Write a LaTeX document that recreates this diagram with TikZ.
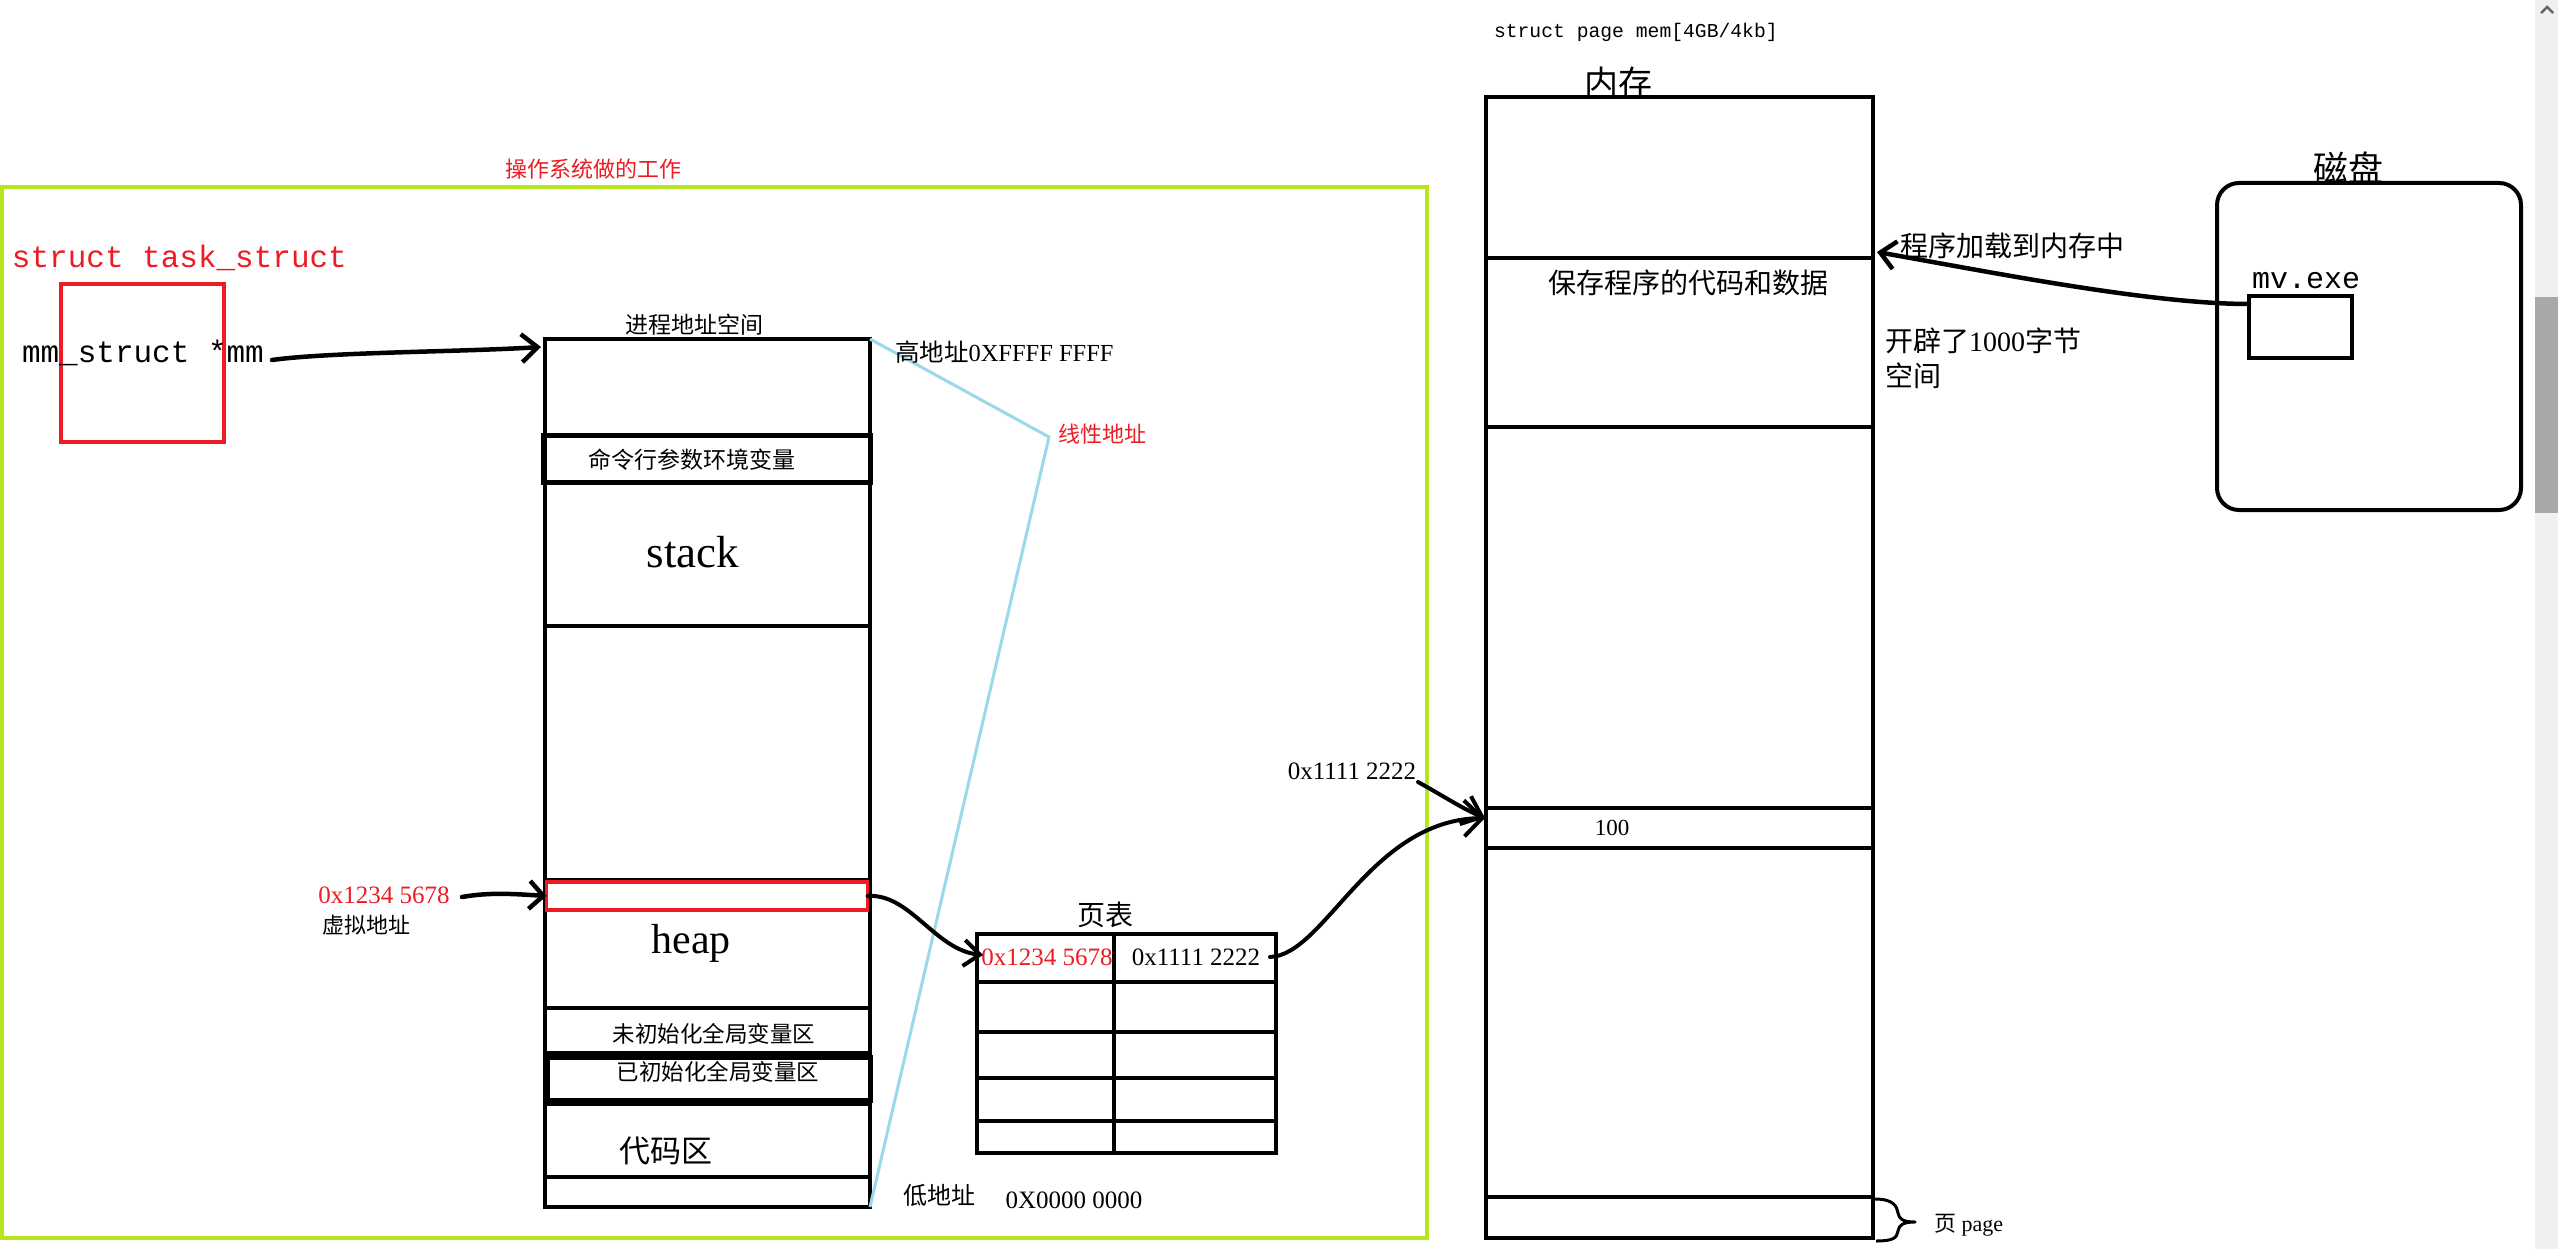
\documentclass[tikz,border=0pt]{standalone}
\usepackage{fontspec}
\setmainfont{Liberation Serif}
\newfontfamily\cjk{Noto Sans CJK SC}
\newfontfamily\mono{Liberation Mono}
\usetikzlibrary{arrows.meta}
\definecolor{lime}{HTML}{B5E61D}
\definecolor{pred}{HTML}{ED1C24}
\definecolor{pblue}{HTML}{99D9EA}
\definecolor{sbbg}{HTML}{F0F0F0}
\definecolor{sbthumb}{HTML}{A8A8A8}
\newcommand\fs[1]{\fontsize{#1}{#1}\selectfont}
\begin{document}
\begin{tikzpicture}[x=1pt,y=-1pt,
  txt/.style={inner sep=0pt, outer sep=0pt},
  box/.style={draw, line width=4pt, inner sep=0pt, outer sep=0pt, rectangle},
  sep/.style={line width=4pt},
  hand/.style={line width=4.5pt, line cap=round, line join=round},
  barbA/.style={-{Straight Barb[length=16pt,width=28pt]}},
]
\useasboundingbox (0,0) rectangle (2558,1249);
\fill[white] (0,0) rectangle (2558,1249);

% scrollbar
\fill[sbbg] (2535,0) rectangle (2558,1249);
\fill[sbthumb] (2535,297) rectangle (2558,513);
\draw[line width=2.5pt, color=black!60] (2541,13) -- (2547,7) -- (2553,13);

% OS frame
\node[draw=lime, line width=4pt, inner sep=0pt, outer sep=0pt, minimum width=1425pt, minimum height=1051pt] (os) at (714,712.5) {};
\node[txt, font=\cjk\fs{22}, text=pred] (ostitle) at (593,169) {操作系统做的工作};

% task_struct
\node[txt, anchor=base west, font=\mono\fs{31}, text=pred] (tstitle) at (12,268) {struct task\_struct};
\node[draw=pred, line width=3.5pt, inner sep=0pt, outer sep=0pt, minimum width=163pt, minimum height=158pt] (task) at (142.5,363) {};
\node[txt, anchor=base west, font=\mono\fs{31}] (mm) at (22,362) {mm\_struct *mm};

% process address space
\node[box, minimum width=325pt, minimum height=868pt] (vas) at (707.5,773) {};
\node[txt, font=\cjk\fs{23}] (vastitle) at (694,325) {进程地址空间};
\node[box, line width=5pt, minimum width=327pt, minimum height=47pt] (cmd) at (706.5,458.5) {};
\node[txt, font=\cjk\fs{23}] (cmdt) at (692,460) {命令行参数环境变量};
\node[txt, anchor=base, font=\fs{45}] (stack) at (693,567) {stack};
\draw[sep] (545,626) -- (870,626);
\draw[sep] (545,880) -- (870,880);
\node[draw=pred, line width=3.5pt, inner sep=0pt, outer sep=0pt, minimum width=321pt, minimum height=28pt] (va) at (707,896) {};
\node[txt, anchor=base, font=\fs{42}] (heap) at (691,953) {heap};
\draw[sep] (545,1008) -- (870,1008);
\node[txt, font=\cjk\fs{22.5}] (bss) at (714,1034) {未初始化全局变量区};
\draw[sep] (545,1053) -- (870,1053);
\node[box, line width=5pt, minimum width=323pt, minimum height=43pt] (data) at (708.5,1078.5) {};
\node[txt, font=\cjk\fs{22.5}] (datat) at (718,1072) {已初始化全局变量区};
\draw[sep, line width=5pt] (545,1103) -- (870,1103);
\node[txt, font=\cjk\fs{31}] (code) at (666,1151) {代码区};
\draw[sep] (545,1177) -- (870,1177);

% linear address
\coordinate (lin) at (1049,437);
\draw[pblue, line width=3pt] (vas.north east) -- (lin) -- (vas.south east);
\node[txt, font=\cjk\fs{22}, text=pred] (lint) at (1102,434) {线性地址};
\node[txt, anchor=west, font=\fs{24.5}] (hi) at (895,352) {{\cjk 高地址}0XFFFF FFFF};
\node[txt, font=\cjk\fs{24}] (lo) at (939,1195) {低地址};
\node[txt, font=\fs{25}] (lonum) at (1074,1200) {0X0000 0000};

% virtual address label
\node[txt, font=\fs{25}, text=pred] (vaddr) at (384,895) {0x1234 5678};
\node[txt, font=\cjk\fs{22}] (vaddrt) at (366,925) {虚拟地址};

% page table
\node[txt, font=\cjk\fs{28}] (pttitle) at (1105,915) {页表};
\node[box, minimum width=299pt, minimum height=219pt] (pt) at (1126.5,1043.5) {};
\draw[sep] (1114,934) -- (1114,1153);
\draw[sep] (977,982) -- (1276,982);
\draw[sep] (977,1032) -- (1276,1032);
\draw[sep] (977,1078) -- (1276,1078);
\draw[sep] (977,1121) -- (1276,1121);
\node[txt, font=\fs{25}, text=pred] (ptv) at (1047,957) {0x1234 5678};
\node[txt, font=\fs{25}] (ptp) at (1196,957) {0x1111 2222};

% memory
\node[txt, anchor=base west, font=\mono\fs{19.7}] (memst) at (1494,38) {struct page mem[4GB/4kb]};
\node[txt, font=\cjk\fs{34}] (memtitle) at (1618,83) {内存};
\node[box, minimum width=387pt, minimum height=1141pt] (mem) at (1679.5,667.5) {};
\draw[sep] (1486,258) -- (1873,258);
\draw[sep] (1486,427) -- (1873,427);
\draw[sep] (1486,808) -- (1873,808);
\draw[sep] (1486,848) -- (1873,848);
\draw[sep] (1486,1197) -- (1873,1197);
\node[txt, font=\cjk\fs{28}] (save) at (1688,283) {保存程序的代码和数据};
\node[txt, font=\fs{23}] (hundred) at (1612,828) {100};
\node[txt, font=\fs{25}] (paddr) at (1352,771) {0x1111 2222};
\node[txt, font=\cjk\fs{28}] (load) at (2012,246) {程序加载到内存中};
\node[txt, anchor=west, font=\fs{28}] (open1) at (1885,341) {{\cjk 开辟了}1000{\cjk 字节}};
\node[txt, anchor=west, font=\cjk\fs{28}] (open2) at (1885,376) {空间};
\draw[line width=3pt, line join=round] (1875,1199) .. controls (1893,1199) and (1897,1206) .. (1898,1213)
  .. controls (1899,1219) and (1903,1222) .. (1915,1222)
  .. controls (1903,1222) and (1899,1225) .. (1898,1231)
  .. controls (1897,1238) and (1893,1241) .. (1876,1241);
\node[txt, anchor=west, font=\fs{22}] (page) at (1934,1225) {{\cjk 页} page};

% disk
\node[txt, font=\cjk\fs{35}] (disktitle) at (2348,168) {磁盘};
\node[box, rounded corners=22pt, minimum width=304pt, minimum height=327pt] (disk) at (2369,346.5) {};
\node[txt, anchor=base west, font=\mono\fs{30}] (mv) at (2252,288) {mv.exe};
\node[box, line width=3.5pt, minimum width=103pt, minimum height=62pt] (mvbox) at (2300.5,327) {};

% connectors
\coordinate (mmS) at (272,360);
\coordinate (vasIn) at (541,347);
\draw[hand, -{Straight Barb[length=16pt,width=28pt]}] (mmS) .. controls (330,352) and (460,352) .. (vasIn);

\coordinate (vaL) at (462,897);
\draw[hand, -{Straight Barb[length=14pt,width=28pt]}] (vaL) .. controls (490,892) and (515,894) .. (va.west);

\coordinate (ptIn) at (983,955);
\draw[hand, line width=4pt, -{Straight Barb[length=16pt,width=26pt]}] (va.east) .. controls (910,893) and (935,950) .. (ptIn);

\coordinate (ptOut) at (1270,957);
\coordinate (memIn) at (1485,818);
\draw[hand, line width=4pt, -{Straight Barb[length=18pt,width=36pt]}] (ptOut) .. controls (1325,955) and (1370,820) .. (memIn);

\coordinate (lblS) at (1418,782);
\draw[hand, line width=4pt, -{Straight Barb[length=18pt,width=30pt]}] (lblS) .. controls (1445,797) and (1465,810) .. (memIn);

\coordinate (mvS) at (2249,304);
\coordinate (memLoad) at (1877,252);
\draw[hand, -{Straight Barb[length=15pt,width=28pt]}] (mvS) .. controls (2150,304) and (1990,272) .. (memLoad);
\end{tikzpicture}
\end{document}
